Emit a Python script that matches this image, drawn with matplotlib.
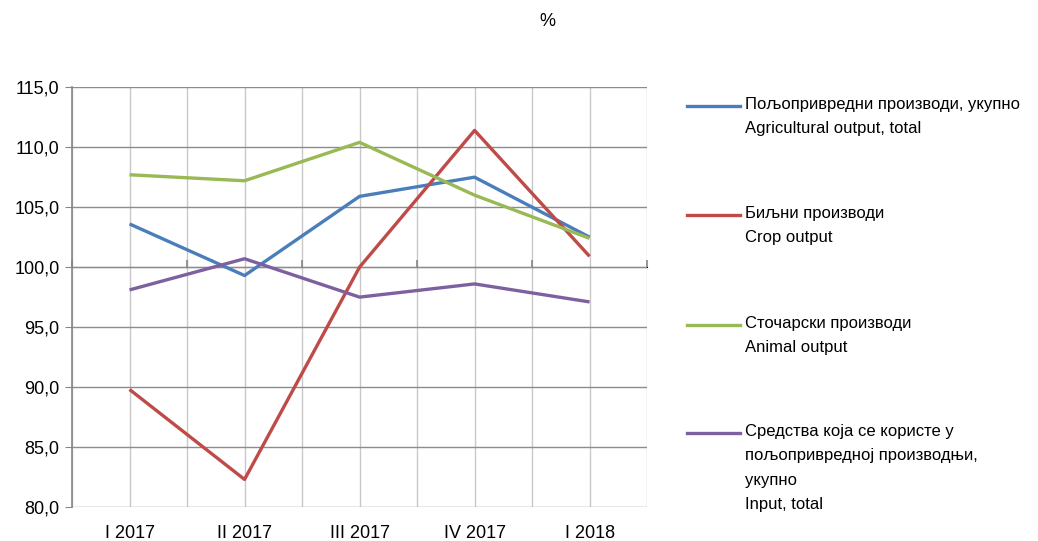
"""
Индекси цена пољопривредних производа и средстава, тромесечно.
"""

import matplotlib
matplotlib.use("Agg")
import matplotlib.pyplot as plt
from matplotlib.lines import Line2D
from matplotlib.ticker import FuncFormatter, MultipleLocator

plt.rcParams["font.family"] = ["Liberation Sans", "DejaVu Sans"]

quarters = ["I 2017", "II 2017", "III 2017", "IV 2017", "I 2018"]
agri_total = [103.6, 99.3, 105.9, 107.5, 102.5]
crop = [89.8, 82.3, 100.0, 111.4, 100.9]
animal = [107.7, 107.2, 110.4, 106.0, 102.4]
inputs = [98.1, 100.7, 97.5, 98.6, 97.1]

series_labels = [
    "Пољопривредни производи, укупно\nAgricultural output, total",
    "Биљни производи\nCrop output",
    "Сточарски производи\nAnimal output",
    "Средства која се користе у\nпољопривредној производњи,\nукупно\nInput, total",
]
colors = ["#4A7EBB", "#BE4B48", "#98B954", "#7D60A0"]

fig = plt.figure(figsize=(10.38, 5.41), dpi=100)
ax = fig.add_axes([0.0694, 0.0628, 0.554, 0.776])

x = list(range(len(quarters)))
for vals, color in zip([agri_total, crop, animal, inputs], colors):
    ax.plot(x, vals, color=color, linewidth=2.4, solid_capstyle="butt", zorder=3)

ax.set_xlim(-0.5, len(quarters) - 0.5)
ax.set_ylim(80, 115)
ax.yaxis.set_major_locator(MultipleLocator(5))
ax.yaxis.set_major_formatter(FuncFormatter(lambda v, _: f"{v:.1f}".replace(".", ",")))

# gridlines
for yv in range(80, 116, 5):
    ax.axhline(yv, color="#8c8c8c", linewidth=1.0, zorder=1)
for xv in [i * 0.5 - 0.5 for i in range(2 * len(quarters) + 1)]:
    ax.axvline(xv, color="#c8c8c8", linewidth=1.0, zorder=0)

for side in ["top", "right", "bottom"]:
    ax.spines[side].set_visible(False)
ax.spines["left"].set_color("#868686")
ax.spines["left"].set_linewidth(1.2)

ax.set_xticks(x)
ax.set_xticklabels(quarters, fontsize=13)
ax.tick_params(axis="x", length=0, pad=13)
ax.tick_params(axis="y", direction="out", length=5, color="#868686", labelsize=13, pad=4)

# category axis crossing at 100
sec = ax.secondary_xaxis((100 - 80) / (115 - 80))
sec.set_xticks([i - 0.5 for i in range(len(quarters) + 1)])
sec.set_xticklabels([])
sec.tick_params(direction="out", length=5, color="#868686", width=1.2)
sec.spines["bottom"].set_color("#868686")
sec.spines["bottom"].set_linewidth(1.5)

fig.text(547 / 1038, 1 - 22 / 541, "%", fontsize=13, ha="center", va="center")

# legend drawn by hand
legend_tops = [106, 215, 325, 433]
for top, label, color in zip(legend_tops, series_labels, colors):
    yf = 1 - top / 541
    fig.add_artist(Line2D([687 / 1038, 740 / 1038], [yf, yf], color=color, linewidth=2.4,
                          transform=fig.transFigure))
    fig.text(745 / 1038, 1 - (top - 9) / 541, label, fontsize=12, ha="left", va="top",
             linespacing=1.78)

fig.savefig("out.png", dpi=100)
